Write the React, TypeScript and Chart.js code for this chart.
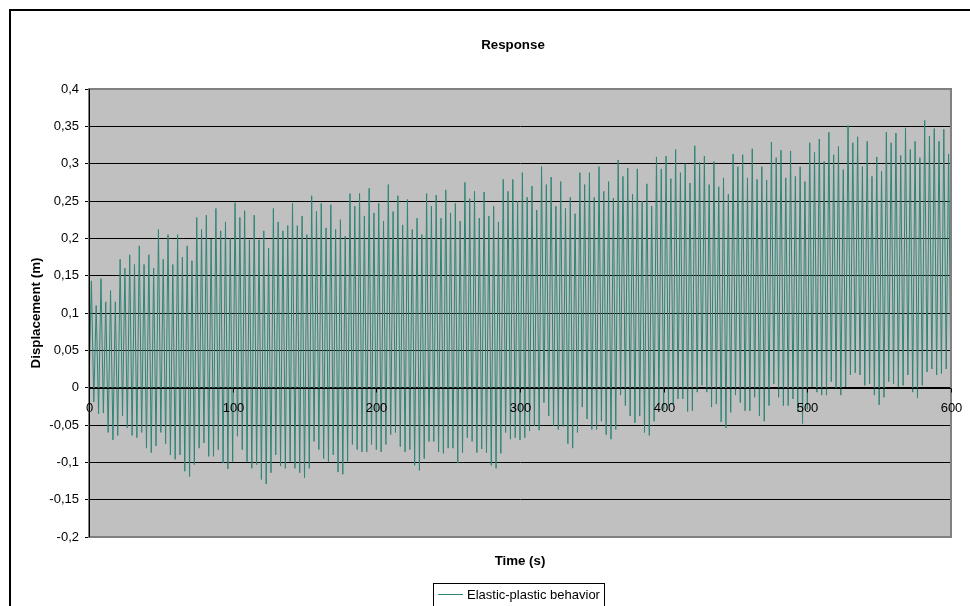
import React, { useEffect, useRef } from "react";
import { Chart, registerables } from "chart.js";

Chart.register(...registerables);

// Successive response peaks (m), left to right
const peaks = [
  0.143, 0.11, 0.146, 0.115, 0.13, 0.115, 0.172, 0.16, 0.178, 0.165,
  0.19, 0.165, 0.178, 0.16, 0.212, 0.172, 0.205, 0.165, 0.205, 0.175,
  0.19, 0.17, 0.228, 0.212, 0.231, 0.199, 0.24, 0.21, 0.222, 0.2,
  0.248, 0.228, 0.237, 0.198, 0.231, 0.198, 0.21, 0.187, 0.24, 0.222,
  0.21, 0.217, 0.247, 0.217,
  0.23, 0.205, 0.257, 0.236, 0.247, 0.214, 0.245, 0.212, 0.225, 0.203,
  0.26, 0.243, 0.26, 0.23, 0.267, 0.234, 0.247, 0.223, 0.272, 0.236,
  0.257, 0.218, 0.252, 0.212, 0.227, 0.205, 0.26, 0.243, 0.258, 0.227,
  0.265, 0.234, 0.247, 0.223, 0.275, 0.253, 0.263, 0.227, 0.262, 0.23,
  0.243, 0.222, 0.279, 0.263, 0.279, 0.25, 0.288, 0.255, 0.27, 0.238,
  0.296, 0.272, 0.282, 0.243, 0.276, 0.24, 0.255, 0.233, 0.288, 0.272,
  0.288, 0.255, 0.296, 0.263, 0.276, 0.254, 0.305, 0.283, 0.294,
  0.259, 0.293, 0.25, 0.273, 0.243, 0.309, 0.293, 0.31, 0.28, 0.319,
  0.288, 0.3, 0.274, 0.324, 0.302, 0.31, 0.272, 0.303, 0.269, 0.281,
  0.259, 0.313, 0.296, 0.312, 0.281, 0.32, 0.279, 0.296, 0.278, 0.329,
  0.308, 0.318, 0.281, 0.317, 0.283, 0.296, 0.276, 0.328, 0.315, 0.333,
  0.303, 0.342, 0.312, 0.323, 0.292, 0.351, 0.328, 0.336, 0.296, 0.33,
  0.283, 0.309, 0.29, 0.342, 0.328, 0.341, 0.311, 0.348, 0.319, 0.33,
  0.308, 0.358, 0.337, 0.347, 0.33, 0.346, 0.313,
];

// Successive response troughs (m), left to right
const troughs = [
  -0.019, -0.035, -0.034, -0.06, -0.07, -0.064, -0.038, -0.054, -0.064, -0.067,
  -0.06, -0.081, -0.087, -0.078, -0.06, -0.075, -0.09, -0.096, -0.09, -0.112,
  -0.119, -0.103, -0.081, -0.074, -0.092, -0.092, -0.083, -0.101, -0.109, -0.099,
  -0.065, -0.083, -0.099, -0.108, -0.103, -0.123, -0.129, -0.114, -0.09, -0.105,
  -0.108, -0.099, -0.108, -0.114,
  -0.121, -0.108, -0.072, -0.083, -0.095, -0.099, -0.09, -0.113, -0.116, -0.099,
  -0.076, -0.083, -0.086, -0.086, -0.076, -0.083, -0.086, -0.076, -0.063, -0.06,
  -0.079, -0.086, -0.083, -0.104, -0.111, -0.095, -0.072, -0.072, -0.086, -0.088,
  -0.081, -0.081, -0.101, -0.087, -0.067, -0.072, -0.087, -0.082, -0.087, -0.104,
  -0.108, -0.088, -0.06, -0.069, -0.067, -0.07, -0.067, -0.058, -0.051, -0.057,
  -0.02, -0.038, -0.051, -0.056, -0.052, -0.075, -0.081, -0.06, -0.026, -0.042,
  -0.056, -0.056, -0.045, -0.063, -0.069, -0.056, -0.01, -0.024,
  -0.038, -0.047, -0.038, -0.06, -0.064, -0.045, -0.022, -0.029, -0.024, -0.022,
  -0.015, -0.015, -0.032, -0.031, -0.006, 0.003, -0.006, -0.026, -0.022, -0.046,
  -0.054, -0.033, -0.01, -0.02, -0.031, -0.031, -0.013, -0.038, -0.045, -0.024,
  0.005, -0.013, -0.024, -0.024, -0.015, -0.032, -0.048, -0.029, 0.001, -0.006,
  -0.01, -0.01, 0.008, -0.001, -0.01, 0.001, 0.017, 0.02, 0.017, 0.003,
  0.005, -0.01, -0.023, -0.013, 0.008, 0.005, 0.001, 0.003, 0.017, -0.006,
  -0.014, 0.003, 0.021, 0.025, 0.017, 0.019, 0.025, -0.006,
];

const startValue = 0;
const startTime = 0;
const endTime = 600;

const yTickValues = [0.4, 0.35, 0.3, 0.25, 0.2, 0.15, 0.1, 0.05, 0, -0.05, -0.1, -0.15, -0.2];
const xTickValues = [0, 100, 200, 300, 400, 500, 600];

const chartTitle = "Response";
const xTitle = "Time (s)";
const yTitle = "Displacement (m)";
const seriesName = "Elastic-plastic behavior";

const LINE_COLOR = "#2F8577";
const FONT = '"Liberation Sans", Arial, sans-serif';

function fmt(v: number): string {
  return String(Number(v.toFixed(2))).replace(".", ",");
}

export default function App() {
  const ref = useRef<HTMLCanvasElement | null>(null);

  useEffect(() => {
    const canvas = ref.current;
    if (!canvas) return;

    const values: number[] = [startValue];
    for (let i = 0; i < peaks.length; i++) {
      values.push(peaks[i]);
      if (i < troughs.length) values.push(troughs[i]);
    }
    const step = (endTime - startTime) / (values.length - 1);
    const data = values.map((v, i) => ({ x: startTime + i * step, y: v }));

    const decor = {
      id: "excelDecor",
      beforeDraw(chart: any) {
        const { ctx, chartArea: a } = chart;
        ctx.save();
        ctx.fillStyle = "#ffffff";
        ctx.fillRect(0, 0, chart.width, chart.height);
        // plot background
        ctx.fillStyle = "#C0C0C0";
        ctx.fillRect(a.left, a.top, a.right - a.left, a.bottom - a.top);
        // outer frame
        ctx.fillStyle = "#000000";
        ctx.fillRect(9, 9, 2, chart.height);
        ctx.fillRect(9, 9, chart.width, 2);
        // title
        ctx.fillStyle = "#000";
        ctx.font = `bold 13.3px ${FONT}`;
        ctx.textAlign = "center";
        ctx.textBaseline = "middle";
        ctx.fillText(chartTitle, 513, 45);
        // x title
        ctx.fillText(xTitle, (a.left + a.right) / 2, 561);
        // y title
        ctx.save();
        ctx.translate(36, (a.top + a.bottom) / 2);
        ctx.rotate(-Math.PI / 2);
        ctx.fillText(yTitle, 0, 0);
        ctx.restore();
        // legend
        ctx.strokeStyle = "#000";
        ctx.lineWidth = 1;
        ctx.strokeRect(433.5, 583.5, 171, 40);
        ctx.strokeStyle = LINE_COLOR;
        ctx.beginPath();
        ctx.moveTo(438, 594.5);
        ctx.lineTo(463, 594.5);
        ctx.stroke();
        ctx.fillStyle = "#000";
        ctx.font = `13px ${FONT}`;
        ctx.textAlign = "left";
        ctx.fillText(seriesName, 467, 595);
        ctx.restore();
      },
      afterDraw(chart: any) {
        const { ctx, chartArea: a, scales } = chart;
        const xs = scales.x;
        const ys = scales.y;
        ctx.save();
        // plot border
        ctx.strokeStyle = "#808080";
        ctx.lineWidth = 2;
        ctx.strokeRect(a.left, a.top, a.right - a.left, a.bottom - a.top);
        // vertical axis line
        ctx.strokeStyle = "#000";
        ctx.lineWidth = 1;
        ctx.beginPath();
        ctx.moveTo(a.left + 0.5, a.top);
        ctx.lineTo(a.left + 0.5, a.bottom);
        ctx.stroke();
        // horizontal axis crossing at 0
        const y0 = Math.round(ys.getPixelForValue(0)) + 0.5;
        ctx.beginPath();
        ctx.moveTo(a.left, y0);
        ctx.lineTo(a.right, y0);
        ctx.stroke();
        ctx.fillStyle = "#000";
        ctx.font = `13px ${FONT}`;
        ctx.textAlign = "center";
        ctx.textBaseline = "middle";
        for (const t of xTickValues) {
          const px = Math.round(xs.getPixelForValue(t)) + 0.5;
          ctx.beginPath();
          ctx.moveTo(px, y0);
          ctx.lineTo(px, y0 + 4);
          ctx.stroke();
          ctx.fillText(String(t), px, y0 + 20);
        }
        ctx.restore();
      },
    };

    const chart = new Chart(canvas, {
      type: "line",
      data: {
        datasets: [
          {
            label: seriesName,
            data,
            borderColor: LINE_COLOR,
            borderWidth: 1,
            pointRadius: 0,
            tension: 0,
            fill: false,
          },
        ],
      },
      options: {
        responsive: false,
        animation: false,
        devicePixelRatio: 1,
        parsing: false as any,
        normalized: true,
        layout: { padding: { top: 89, right: 19, bottom: 69, left: 0 } },
        plugins: {
          legend: { display: false },
          title: { display: false },
          tooltip: { enabled: false },
        },
        scales: {
          x: {
            type: "linear",
            min: startTime,
            max: endTime,
            display: false,
          },
          y: {
            type: "linear",
            min: -0.2,
            max: 0.4,
            afterBuildTicks: (s: any) => {
              s.ticks = yTickValues.map((v) => ({ value: v }));
            },
            afterFit: (s: any) => {
              s.width = 89;
            },
            ticks: {
              color: "#000",
              font: { family: FONT, size: 13 },
              padding: 6,
              callback: (v: any) => fmt(Number(v)),
            },
            grid: {
              color: "#000",
              lineWidth: 1,
              drawTicks: true,
              tickLength: 4,
            },
            border: { display: true, color: "#000", width: 1 },
          },
        },
      },
      plugins: [decor],
    });

    return () => chart.destroy();
  }, []);

  return (
    <div style={{ position: "fixed", left: 0, top: 0, width: 970, height: 606, background: "#fff" }}>
      <canvas ref={ref} width={970} height={606} style={{ display: "block", width: 970, height: 606 }} />
    </div>
  );
}
